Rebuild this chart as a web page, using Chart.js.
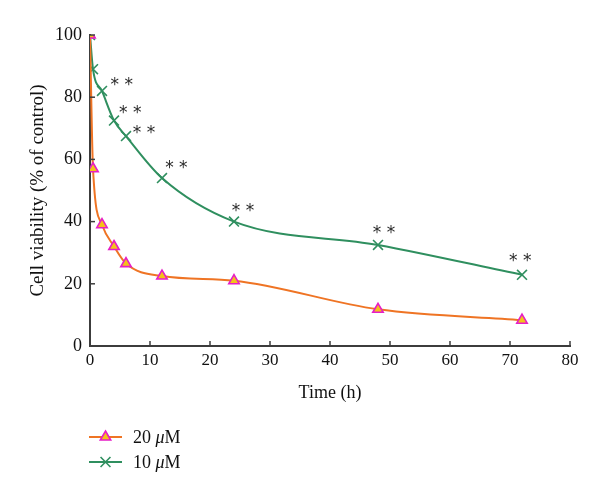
<!DOCTYPE html>
<html>
<head>
<meta charset="utf-8">
<script src="https://cdn.jsdelivr.net/npm/chart.js@4.4.1/dist/chart.umd.min.js"></script>
<style>
  html, body { margin: 0; padding: 0; background: #fff; }
  #wrap { width: 600px; height: 495px; }
</style>
</head>
<body>
<div id="wrap"><canvas id="viabilityChart" width="600" height="495"></canvas></div>
<script>
// time points (h)
const times = [0, 0.5, 2, 4, 6, 12, 24, 48, 72];
// cell viability, % of control
const viability20 = [100, 57, 39, 32, 26.5, 22.5, 21, 11.8, 8.3];
const viability10 = [100, 89, 82, 72.5, 67.5, 54, 40, 32.5, 22.9];
const seriesLabels = ["20 \u03bcM", "10 \u03bcM"];
// where the "* *" marks sit (data units)
const starX = [5.3, 6.7, 9.0, 14.4, 25.5, 49.0, 71.7];
const starY = [85.4, 76.2, 69.8, 58.5, 44.8, 37.8, 28.6];

const ORANGE = "#ef7424";
const GREEN = "#2f8f5f";
const AXIS = "#3c3c3c";
const SERIF = "'Liberation Serif', 'Times New Roman', serif";

const toPoints = (xs, ys) => xs.map((x, i) => ({ x: x, y: ys[i] }));

// short inward tick marks on both axes
const innerTicks = {
    id: "innerTicks",
    afterDraw(chart) {
        const ctx = chart.ctx;
        const xs = chart.scales.x, ys = chart.scales.y;
        ctx.save();
        ctx.strokeStyle = AXIS;
        ctx.lineWidth = 1.5;
        xs.ticks.forEach(t => {
            if (t.value === 0) return;
            const px = xs.getPixelForValue(t.value);
            ctx.beginPath();
            ctx.moveTo(px, xs.top);
            ctx.lineTo(px, xs.top - 5);
            ctx.stroke();
        });
        ys.ticks.forEach(t => {
            if (t.value === 0) return;
            const py = ys.getPixelForValue(t.value);
            ctx.beginPath();
            ctx.moveTo(ys.right, py);
            ctx.lineTo(ys.right + 5, py);
            ctx.stroke();
        });
        ctx.restore();
    }
};

// significance asterisks
const stars = {
    id: "stars",
    afterDatasetsDraw(chart) {
        const ctx = chart.ctx;
        const xs = chart.scales.x, ys = chart.scales.y;
        ctx.save();
        ctx.fillStyle = "#2a2a2a";
        ctx.font = "17px 'DejaVu Sans'";
        ctx.textAlign = "center";
        ctx.textBaseline = "middle";
        starX.forEach((x, i) => {
            ctx.fillText("* *", xs.getPixelForValue(x), ys.getPixelForValue(starY[i]) + 5);
        });
        ctx.restore();
    }
};

// legend stacked under the plot, left aligned
const stackedLegend = {
    id: "stackedLegend",
    afterDraw(chart) {
        const ctx = chart.ctx;
        const left = 89, rowY = [437, 462];
        ctx.save();
        chart.data.datasets.forEach((ds, i) => {
            const y = rowY[i];
            ctx.strokeStyle = ds.borderColor;
            ctx.lineWidth = 2;
            ctx.beginPath();
            ctx.moveTo(left, y);
            ctx.lineTo(left + 33, y);
            ctx.stroke();
            ctx.fillStyle = ds.pointBackgroundColor;
            ctx.strokeStyle = ds.pointBorderColor;
            ctx.lineWidth = ds.pointBorderWidth;
            Chart.helpers.drawPoint(ctx, {
                pointStyle: ds.pointStyle,
                radius: ds.pointRadius,
                borderWidth: ds.pointBorderWidth,
                rotation: 0
            }, left + 16.5, y);
            // label: number, italic mu, M
            const parts = ds.label.split("\u03bc");
            let tx = left + 44;
            ctx.fillStyle = "#111";
            ctx.textBaseline = "middle";
            ctx.font = "18px " + SERIF;
            ctx.fillText(parts[0], tx, y + 1);
            tx += ctx.measureText(parts[0]).width;
            ctx.font = "italic 18px " + SERIF;
            ctx.fillText("\u03bc", tx, y + 1);
            tx += ctx.measureText("\u03bc").width;
            ctx.font = "18px " + SERIF;
            ctx.fillText(parts[1], tx, y + 1);
        });
        ctx.restore();
    }
};

new Chart(document.getElementById("viabilityChart"), {
    type: "line",
    data: {
        datasets: [{
            label: seriesLabels[0],
            data: toPoints(times, viability20),
            borderColor: ORANGE,
            borderWidth: 2,
            cubicInterpolationMode: "monotone",
            pointStyle: "triangle",
            pointRadius: 6,
            pointBackgroundColor: "#f4c21a",
            pointBorderColor: "#e61ec6",
            pointBorderWidth: 1.6
        }, {
            label: seriesLabels[1],
            data: toPoints(times, viability10),
            borderColor: GREEN,
            borderWidth: 2,
            cubicInterpolationMode: "monotone",
            pointStyle: "crossRot",
            pointRadius: 7,
            pointBackgroundColor: GREEN,
            pointBorderColor: GREEN,
            pointBorderWidth: 1.6
        }]
    },
    options: {
        responsive: false,
        animation: false,
        layout: { padding: { left: 0, top: 35, right: 30, bottom: 87 } },
        plugins: {
            legend: { display: false },
            tooltip: { enabled: false }
        },
        scales: {
            x: {
                type: "linear",
                min: 0,
                max: 80,
                border: { color: AXIS, width: 2 },
                grid: { drawOnChartArea: false, drawTicks: false },
                ticks: { stepSize: 10, padding: 4, color: "#111", font: { family: SERIF, size: 17 } },
                title: {
                    display: true,
                    text: "Time (h)",
                    color: "#111",
                    font: { family: SERIF, size: 18 },
                    padding: { top: 8, bottom: 4 }
                }
            },
            y: {
                min: 0,
                max: 100,
                border: { color: AXIS, width: 2 },
                grid: { drawOnChartArea: false, drawTicks: false },
                ticks: { stepSize: 20, padding: 8, color: "#111", font: { family: SERIF, size: 18 } },
                title: {
                    display: true,
                    text: "Cell viability (% of control)",
                    color: "#111",
                    font: { family: SERIF, size: 19 },
                    padding: { top: 27, bottom: 4 }
                },
                afterFit: (scale) => { scale.width = 90; }
            }
        }
    },
    plugins: [innerTicks, stars, stackedLegend]
});
</script>
</body>
</html>
